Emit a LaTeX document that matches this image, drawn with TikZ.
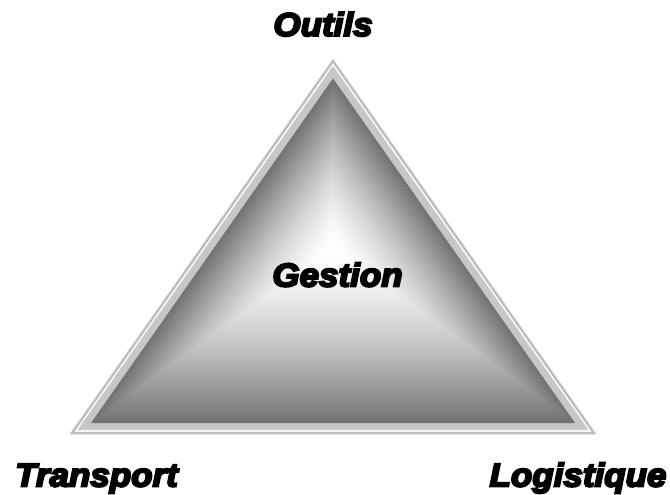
\documentclass[tikz,border=0pt]{standalone}
\usepackage{fontspec}
\usepackage{tikz}
\usetikzlibrary{calc}
\newfontfamily\lblfont{Liberation Sans}[UprightFont={* Bold Italic},FakeBold=6,FakeStretch=1.06]

\begin{document}
\begin{tikzpicture}[x=1bp,y=-1bp,lbl/.style={anchor=base,font=\lblfont\fontsize{33bp}{40bp}\selectfont}]
\useasboundingbox (0,0) rectangle (670,495);
\coordinate (o1) at (333,61);
\coordinate (o2) at (72,433);
\coordinate (o3) at (594,433);
\coordinate (b1) at (333,66);
\coordinate (b2) at (77.5,430);
\coordinate (b3) at (588.5,430);
\coordinate (t1) at (333,78.5);
\coordinate (t2) at (91,423);
\coordinate (t3) at (575,423);
\coordinate (c) at (333,248);
\draw[black!25,line width=2.5bp] (o1) -- (o2) -- (o3) -- cycle;
\fill[black!22] (b1) -- (b2) -- (b3) -- cycle;
\foreach \i in {0,...,79}{
  \pgfmathsetmacro{\sc}{1-\i/80}
  \pgfmathsetmacro{\pc}{55*\sc^1.5}
  \fill[black!\pc] ($(c)!\sc!(t1)$) -- ($(c)!\sc!(t2)$) -- ($(c)!\sc!(t3)$) -- cycle;
}
\node[lbl] (n1) at (323,36) {Outils};
\node[lbl] (n2) at (337.5,286.5) {Gestion};
\node[lbl] (n3) at (96.5,486.5) {Transport};
\node[lbl] (n4) at (578,486.5) {Logistique};
\end{tikzpicture}
\end{document}
